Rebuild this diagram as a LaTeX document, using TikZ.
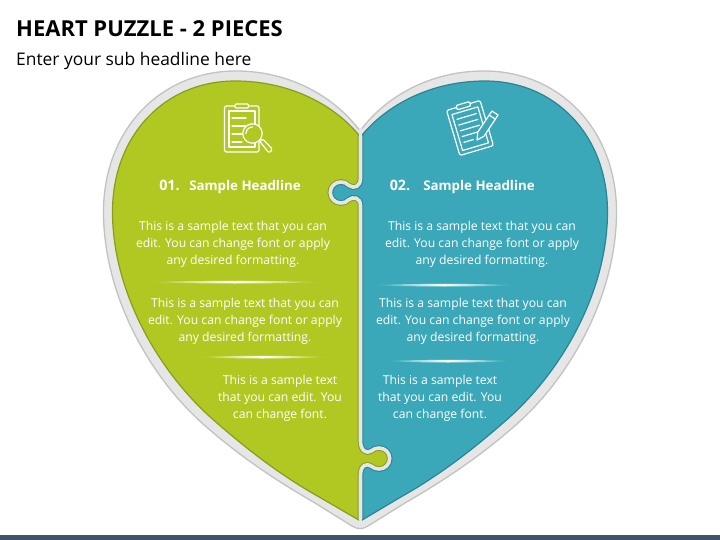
\documentclass[tikz,border=0pt]{standalone}
\usepackage{fontspec}
\setmainfont{Open Sans}
\definecolor{gr}{HTML}{B2C822}
\definecolor{grd}{HTML}{8A9C1E}
\definecolor{te}{HTML}{3AA8B8}
\definecolor{ted}{HTML}{2A8494}
\definecolor{ring}{HTML}{E6E6E6}
\definecolor{ringd}{HTML}{C2C2C2}
\definecolor{bar}{HTML}{3F5468}
\tikzset{
 bodytext/.style={text=white,align=center,font=\fontsize{12.2}{17}\selectfont,inner sep=0pt},
 headtext/.style={text=white,font=\fontsize{13.3}{15}\bfseries\selectfont,inner sep=0pt},
 numtext/.style={text=white,font=\fontsize{14.3}{15}\bfseries\selectfont,inner sep=0pt},
 icon/.style={draw=white,line width=1.2pt,line cap=round,line join=round},
}
\def\lefthalf{(360.5,137) .. controls (335,105) and (290,81) .. (235,81) .. controls (165,81) and (112.5,135) .. (112.5,212) .. controls (112.5,290) and (157,372) .. (217,423) .. controls (248,450) and (280,475) .. (320,497.5) -- (360.5,521)}
\def\righthalf{(360.5,137) .. controls (386,105) and (431,81) .. (485,81) .. controls (555,81) and (607.5,135) .. (607.5,212) .. controls (607.5,290) and (563,372) .. (503,423) .. controls (472,450) and (440,475) .. (400,497.5) -- (360.5,521)}
\def\seam{(360.5,60) -- (360.5,178) .. controls (360.5,187) and (354,189) .. (349,185.5) .. controls (346.5,183) and (344,182) .. (341,182) .. controls (335,182) and (330.3,186.6) .. (330.3,192.5) .. controls (330.3,198.4) and (335,203) .. (341,203) .. controls (344,203) and (346.5,202) .. (349,199.5) .. controls (353,196.5) and (360.5,197) .. (360.5,206) -- (360.5,441) .. controls (360.5,451) and (367,454) .. (371,451) .. controls (373.5,449) and (376,448) .. (379,448) .. controls (385,448) and (389.7,452.6) .. (389.7,458.5) .. controls (389.7,464.4) and (385,469) .. (379,469) .. controls (376,469) and (373.5,468) .. (371,466) .. controls (367,463) and (360.5,465) .. (360.5,475) -- (360.5,530)}
\begin{document}
\begin{tikzpicture}[x=1pt,y=-1pt]
\useasboundingbox (0,0) rectangle (720,540);
\fill[white] (0,0) rectangle (720,540);
\fill[bar] (0,535) rectangle (720,540);
\node[anchor=base west,inner sep=0pt,font=\fontsize{22}{26}\bfseries\selectfont] (title) at (16,36.5) {HEART PUZZLE - 2 PIECES};
\node[anchor=base west,inner sep=0pt,font=\fontsize{17.4}{20}\selectfont] (sub) at (16,66) {Enter your sub headline here};
% outer ring
\path[fill=ring,draw=ringd,line width=1.3pt,line join=round] (360,131) .. controls (335,97) and (290,71) .. (236,71) .. controls (160,71) and (103.5,130) .. (103.5,212) .. controls (103.5,295) and (150,380) .. (210,430) .. controls (240,456) and (275,480) .. (315,503) -- (352,526) .. controls (357,529.5) and (363,529.5) .. (368,526) -- (405,503) .. controls (445,480) and (480,456) .. (510,430) .. controls (570,380) and (616.5,295) .. (616.5,212) .. controls (616.5,130) and (560,71) .. (484,71) .. controls (430,71) and (385,97) .. (360,131) -- cycle;
% pieces
\begin{scope}
\clip (360.5,137) .. controls (386,105) and (431,81) .. (485,81) .. controls (555,81) and (607.5,135) .. (607.5,212) .. controls (607.5,290) and (563,372) .. (503,423) .. controls (472,450) and (440,475) .. (400,497.5) -- (360.5,521) -- (320,497.5) .. controls (280,475) and (248,450) .. (217,423) .. controls (157,372) and (112.5,290) .. (112.5,212) .. controls (112.5,135) and (165,81) .. (235,81) .. controls (290,81) and (335,105) .. cycle;
\begin{scope}
\clip \seam -- (640,530) -- (640,60) -- cycle;
\fill[te] (300,60) rectangle (640,530);
\draw[ted,line width=5.6pt] \seam;
\end{scope}
\begin{scope}
\clip \seam -- (90,530) -- (90,60) -- cycle;
\fill[gr] (90,60) rectangle (400,530);
\draw[grd,line width=5.6pt] \seam;
\end{scope}
\draw[ring,line width=3.6pt] \seam;
\end{scope}
\draw[grd,line width=1.2pt] \lefthalf;
\draw[ted,line width=1.2pt] \righthalf;
\draw[ring,line width=3.6pt] (360.5,128) -- (360.5,150);
\draw[ring,line width=3.6pt] (360.5,505) -- (360.5,526);
% dividers
\shade[left color=gr,right color=gr,middle color=white] (148,282) .. controls (200,280.5) and (270,280.5) .. (322,282) .. controls (270,284) and (200,284) .. (148,282);
\shade[left color=gr,right color=gr,middle color=white] (197,357) .. controls (240,355.5) and (285,355.5) .. (328,357) .. controls (285,359) and (240,359) .. (197,357);
\shade[left color=te,right color=te,middle color=white] (372,285) .. controls (420,283.5) and (470,283.5) .. (515,285) .. controls (470,287) and (420,287) .. (372,285);
\shade[left color=te,right color=te,middle color=white] (385,361) .. controls (425,359.5) and (470,359.5) .. (512,361) .. controls (470,363) and (425,363) .. (385,361);
% text
\node[numtext] (n1) at (169.5,185.5) {01.};
\node[headtext] (h1) at (245,187) {Sample Headline};
\node[numtext] (n2) at (400,185.5) {02.};
\node[headtext] (h2) at (479,187) {Sample Headline};
\node[bodytext] (a1) at (233,244) {This is a sample text that you can\\edit. You can change font or apply\\any desired formatting.};
\node[bodytext] (a2) at (245,321) {This is a sample text that you can\\edit. You can change font or apply\\any desired formatting.};
\node[bodytext] (a3) at (280,398) {This is a sample text\\that you can edit. You\\can change font.};
\node[bodytext] (b1) at (482,244) {This is a sample text that you can\\edit. You can change font or apply\\any desired formatting.};
\node[bodytext] (b2) at (473,321) {This is a sample text that you can\\edit. You can change font or apply\\any desired formatting.};
\node[bodytext] (b3) at (440,398) {This is a sample text\\that you can edit. You\\can change font.};
% left icon
\draw[icon,rounded corners=2pt] (224.5,106) rectangle (259,152);
\draw[icon] (229,111) rectangle (255,147);
\draw[icon,fill=gr,rounded corners=1pt] (235,104) rectangle (248.5,108);
\draw[icon] (232,118) -- (246,118) (232,126) -- (246,126) (232,134) -- (243,134) (232,142) -- (242,142);
\draw[icon,fill=gr] (252.5,133.5) circle (9.7);
\draw[icon] (246,133.5) arc (180:270:6.5);
\draw[icon,rounded corners=1.5pt] (259.5,141) -- (263,139) -- (272.5,149.5) -- (269,153) -- cycle;
% right icon
\begin{scope}[rotate around={16.5:(470,128)}]
\draw[icon,rounded corners=2pt] (452.5,104.5) rectangle (487.5,151.5);
\draw[icon] (456.5,110) rectangle (483.5,147.5);
\draw[icon,fill=te,rounded corners=1pt] (463,102.5) rectangle (477,107);
\draw[icon] (460,116) -- (480,116) (460,122) -- (480,122) (460,128) -- (480,128) (460,134) -- (477,134) (460,140) -- (470,140);
\end{scope}
\draw[icon,fill=te] (477,140) -- (477.8,132.1) -- (491.9,111) -- (498.1,115) -- (484,136.2) -- cycle;
\draw[icon] (489.1,115.1) -- (495.3,119.2);
\end{tikzpicture}
\end{document}
